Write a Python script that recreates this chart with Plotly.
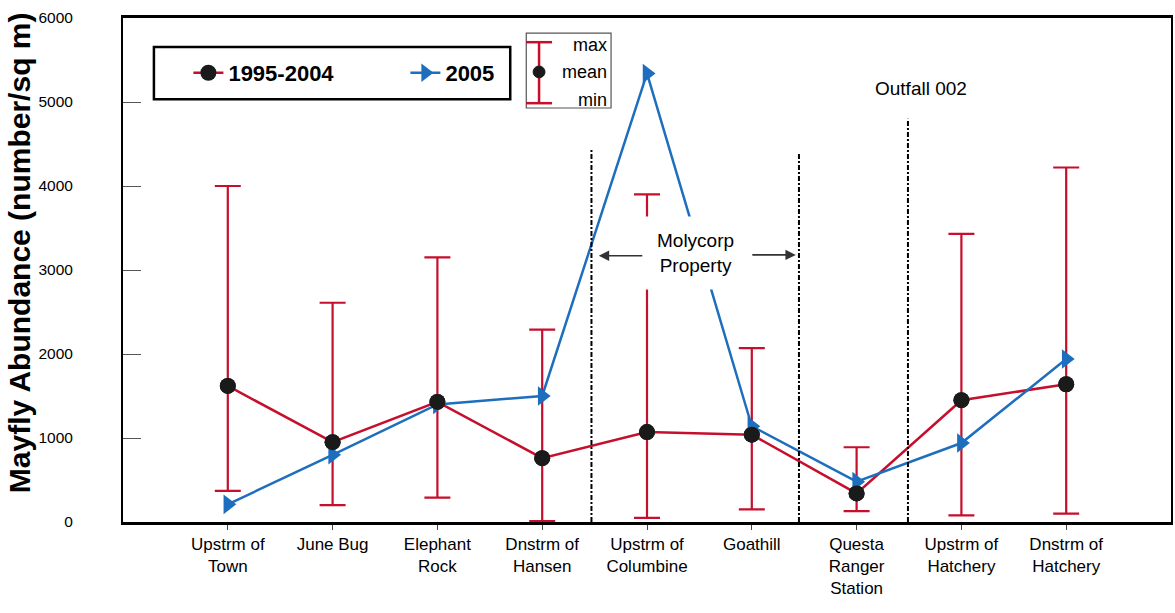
import plotly.graph_objects as go

# Sampling sites, upstream to downstream
sites = [
    "Upstrm of<br>Town", "June Bug", "Elephant<br>Rock", "Dnstrm of<br>Hansen",
    "Upstrm of<br>Columbine", "Goathill", "Questa<br>Ranger<br>Station",
    "Upstrm of<br>Hatchery", "Dnstrm of<br>Hatchery",
]

# 1995-2004 summary statistics (number/sq m)
hist_mean = [1620, 950, 1430, 760, 1070, 1040, 340, 1450, 1640]
hist_max = [4000, 2610, 3150, 2290, 3900, 2070, 890, 3430, 4220]
hist_min = [370, 200, 290, 10, 50, 150, 130, 80, 100]

# 2005 survey
y2005 = [210, 800, 1400, 1500, 5340, 1140, 480, 940, 1940]

yticks = [0, 1000, 2000, 3000, 4000, 5000, 6000]

RED = "#C50F2C"
BLUE = "#1E6EBE"
FONT = "Liberation Sans, Arial, sans-serif"

idx = list(range(len(sites)))
err_up = [mx - m for mx, m in zip(hist_max, hist_mean)]
err_dn = [m - mn for m, mn in zip(hist_mean, hist_min)]

fig = go.Figure()

fig.add_trace(go.Scatter(
    x=idx, y=hist_mean, name="1995-2004", mode="lines+markers",
    line=dict(color=RED, width=2.5),
    marker=dict(symbol="circle", size=16, color="#1a1a1a"),
    error_y=dict(type="data", symmetric=False, array=err_up, arrayminus=err_dn,
                 color=RED, thickness=2.2, width=13),
))

fig.add_trace(go.Scatter(
    x=idx, y=y2005, name="2005", mode="lines+markers",
    line=dict(color=BLUE, width=2.5),
    marker=dict(symbol="triangle-right", size=17, color=BLUE),
))

# mean markers redrawn on top of the 2005 line
fig.add_trace(go.Scatter(
    x=idx, y=hist_mean, mode="markers", showlegend=False, hoverinfo="skip",
    marker=dict(symbol="circle", size=16, color="#1a1a1a"),
))

# reach boundaries: (x position between sites, top of line)
boundaries = [(3.47, 4430), (5.45, 4400), (6.49, 4800)]
shapes = []
for bx, top in boundaries:
    shapes.append(dict(type="line", xref="x", yref="y", x0=bx, x1=bx, y0=0, y1=top,
                       line=dict(color="black", width=2, dash="5px,2px,2px,2px")))

# legend frame
shapes.append(dict(type="rect", xref="paper", yref="paper",
                   x0=0.0295, x1=0.3695, y0=0.839, y1=0.9425,
                   line=dict(color="black", width=2.5), fillcolor="white", layer="below"))

# min / mean / max key
shapes.append(dict(type="rect", xref="paper", yref="paper",
                   x0=0.3848, x1=0.4657, y0=0.8214, y1=0.970,
                   line=dict(color="#555555", width=1.2), fillcolor="white", layer="below"))
kx, khw = 0.397, 0.0124
shapes += [
    dict(type="line", xref="paper", yref="paper", x0=kx, x1=kx, y0=0.831, y1=0.952,
         line=dict(color=RED, width=2.5)),
    dict(type="line", xref="paper", yref="paper", x0=kx - khw, x1=kx + khw, y0=0.952, y1=0.952,
         line=dict(color=RED, width=2.5)),
    dict(type="line", xref="paper", yref="paper", x0=kx - khw, x1=kx + khw, y0=0.831, y1=0.831,
         line=dict(color=RED, width=2.5)),
    dict(type="circle", xref="paper", yref="paper", x0=kx - 0.0057, x1=kx + 0.0057,
         y0=0.893 - 0.0117, y1=0.893 + 0.0117, line=dict(color="#1a1a1a", width=1),
         fillcolor="#1a1a1a"),
]

annotations = [
    dict(text="Mayfly Abundance (number/sq m)", xref="paper", yref="paper",
         x=-0.098, y=0.534, textangle=-90, showarrow=False,
         xanchor="center", yanchor="middle",
         font=dict(family=FONT, size=30, color="black", weight="bold")),
    dict(text="Molycorp<br>Property", xref="x", yref="y", x=4.467, y=3200,
         showarrow=False, bgcolor="white", borderpad=13,
         font=dict(family=FONT, size=19, color="black")),
    dict(text="", xref="x", yref="y", x=boundaries[0][0] + 0.07, y=3170,
         ax=45, ay=0, showarrow=True, arrowhead=2, arrowsize=1.3, arrowwidth=1.6,
         arrowcolor="#333333"),
    dict(text="", xref="x", yref="y", x=boundaries[1][0] - 0.03, y=3180,
         ax=-45, ay=0, showarrow=True, arrowhead=2, arrowsize=1.3, arrowwidth=1.6,
         arrowcolor="#333333"),
    dict(text="Outfall 002", xref="x", yref="y", x=6.61, y=5155, showarrow=False,
         font=dict(family=FONT, size=19, color="black")),
]
for label, yp in [("max", 0.947), ("mean", 0.893), ("min", 0.837)]:
    annotations.append(dict(text=label, xref="paper", yref="paper", x=0.4637, y=yp,
                            xanchor="right", yanchor="middle", showarrow=False,
                            font=dict(family=FONT, size=18, color="black")))

fig.update_layout(
    width=1175, height=613,
    margin=dict(l=123, r=2, t=18, b=91),
    paper_bgcolor="white", plot_bgcolor="white",
    font=dict(family=FONT, color="black"),
    showlegend=True,
    legend=dict(orientation="h", x=0.0624, y=0.891, yanchor="middle", xanchor="left",
                bgcolor="rgba(0,0,0,0)", borderwidth=0, entrywidth=172,
                font=dict(family=FONT, size=22, color="black", weight="bold")),
    shapes=shapes,
    annotations=annotations,
    xaxis=dict(
        tickmode="array", tickvals=idx, ticktext=sites, range=[-1, 9],
        showgrid=False, zeroline=False, showline=True, linecolor="black", linewidth=2.5,
        mirror=True, ticks="outside", ticklen=5, tickcolor="#444444",
        tickfont=dict(family=FONT, size=17, color="black"),
    ),
    yaxis=dict(
        range=[0, 6000], tickmode="array", tickvals=yticks,
        showgrid=False, zeroline=False, showline=True, linecolor="black", linewidth=2,
        mirror=True, ticks="inside", ticklen=18, tickcolor="#555555", tickwidth=1,
        ticklabelstandoff=45,
        tickfont=dict(family=FONT, size=15.5, color="black"),
    ),
)

fig.write_html("out.html")
